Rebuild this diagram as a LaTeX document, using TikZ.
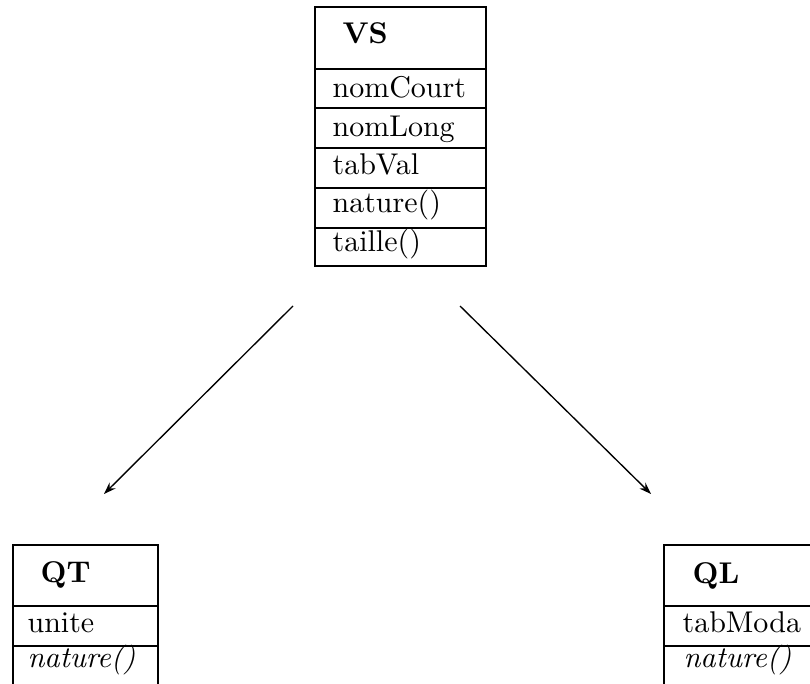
\documentclass[tikz,border=0pt]{standalone}
\usetikzlibrary{arrows.meta}
\begin{document}
\begin{tikzpicture}[x=0.3333pt,y=-0.3333pt,
  frame/.style={line width=0.7pt},
  title/.style={anchor=base west,inner sep=0pt,font=\bfseries},
  field/.style={anchor=base west,inner sep=0pt},
  link/.style={line width=0.45pt,-{Stealth[length=4pt,width=2.8pt]}}]
\useasboundingbox (0,0) rectangle (810,684);
\clip (0,0) rectangle (810,684);

% class VS
\draw[frame] (315,7) rectangle (486,266);
\foreach \y in {69,108,148,188,228} \draw[frame] (315,\y) -- (486,\y);
\node[title] (vs) at (342,44) {VS};
\node[field] (vs1) at (332,98) {nomCourt};
\node[field] (vs2) at (332,137) {nomLong};
\node[field] (vs3) at (332,175) {tabVal};
\node[field] (vs4) at (332,213) {nature()};
\node[field] (vs5) at (332,252) {taille()};

% class QT
\draw[frame] (13,700) -- (13,545) -- (158,545) -- (158,700);
\foreach \y in {606,646} \draw[frame] (13,\y) -- (158,\y);
\node[title] (qt) at (40,582) {QT};
\node[field] (qt1) at (27,632) {unite};
\node[field] (qt2) at (27,667) {\itshape nature()};

% class QL
\draw[frame] (664,700) -- (664,545) -- (816,545) -- (816,700);
\foreach \y in {606,646} \draw[frame] (664,\y) -- (816,\y);
\node[title] (ql) at (692,583) {QL};
\node[field] (ql1) at (682,632) {tabModa};
\node[field] (ql2) at (683,667) {\itshape nature()};

% inheritance links
\coordinate (sL) at (293,306);
\coordinate (eL) at (104,494);
\coordinate (sR) at (460,306);
\coordinate (eR) at (651,494);
\draw[link] (sL) -- (eL);
\draw[link] (sR) -- (eR);
\end{tikzpicture}
\end{document}
